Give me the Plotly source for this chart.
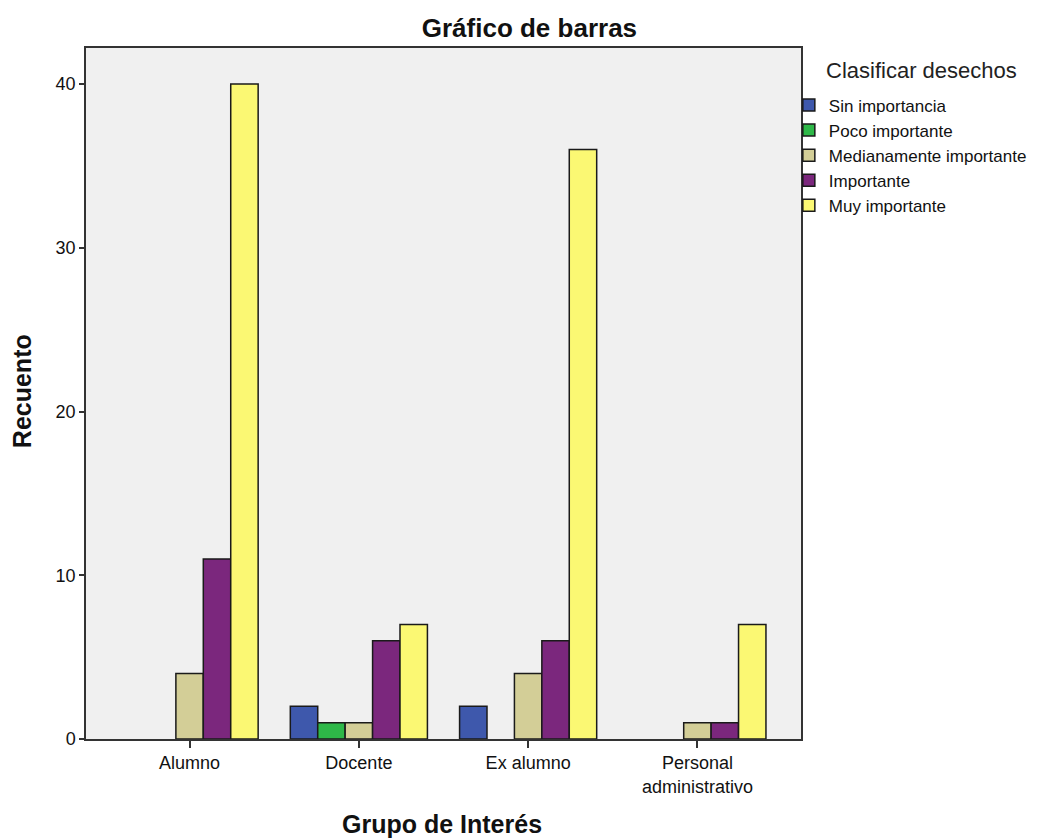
import plotly.graph_objects as go

categories = ["Alumno", "Docente", "Ex alumno", "Personal<br>administrativo"]
series_names = ["Sin importancia", "Poco importante", "Medianamente importante", "Importante", "Muy importante"]
sin_importancia = [None, 2, 2, None]
poco_importante = [None, 1, None, None]
medianamente = [4, 1, 4, 1]
importante = [11, 6, 6, 1]
muy_importante = [40, 7, 36, 7]
colors = ["#3E58AC", "#2EB848", "#D3CE97", "#7B277D", "#FBF873"]

values = [sin_importancia, poco_importante, medianamente, importante, muy_importante]

fig = go.Figure()
for name, vals, col in zip(series_names, values, colors):
    fig.add_trace(go.Bar(
        x=categories, y=vals, name=name,
        marker=dict(color=col, line=dict(color="#1a1a1a", width=1.5)),
    ))

font_family = "Liberation Sans, Arial, sans-serif"
fig.update_layout(
    width=1047, height=838,
    barmode="group", bargap=0.19, bargroupgap=0,
    paper_bgcolor="white", plot_bgcolor="#F0F0F0",
    margin=dict(l=78, r=254, t=40, b=107),
    font=dict(family=font_family, size=18, color="#222"),
    title=dict(text="<b>Gráfico de barras</b>", x=0.498, xref="container", xanchor="center",
               y=0.976, yref="container", yanchor="middle",
               font=dict(size=26, color="#111")),
    legend=dict(x=0.983, xanchor="left", y=0.943, yanchor="top",
                font=dict(size=17, color="#111"), tracegroupgap=0, itemwidth=30,
                bgcolor="rgba(0,0,0,0)"),
    showlegend=True,
    annotations=[
        dict(text="Clasificar desechos", xref="paper", yref="paper", x=(816 - 78) / 715, y=0.968,
             xanchor="left", yanchor="middle", showarrow=False, font=dict(size=22, color="#222")),
        dict(text="<b>Grupo de Interés</b>", xref="paper", yref="paper", x=0.498, y=-0.123,
             xanchor="center", yanchor="middle", showarrow=False, font=dict(size=25, color="#111")),
        dict(text="<b>Recuento</b>", xref="paper", yref="paper", x=-0.0893, y=0.5036, textangle=-90,
             xanchor="center", yanchor="middle", showarrow=False, font=dict(size=25, color="#111")),
    ],
)
fig.update_xaxes(
    range=[-0.612, 3.612], showline=True, linecolor="#333", linewidth=1.5, mirror=True,
    ticks="outside", ticklen=7, tickcolor="#333", tickwidth=1.5,
    tickfont=dict(size=18, color="#111"),
)
fig.update_yaxes(
    range=[0, 42.2], showline=True, linecolor="#333", linewidth=1.5, mirror=True,
    ticks="outside", ticklen=5, tickcolor="#333", tickwidth=1.5,
    tickvals=[0, 10, 20, 30, 40], showgrid=False, zeroline=False,
    tickfont=dict(size=18, color="#111"),
)

fig.write_html("out.html")
